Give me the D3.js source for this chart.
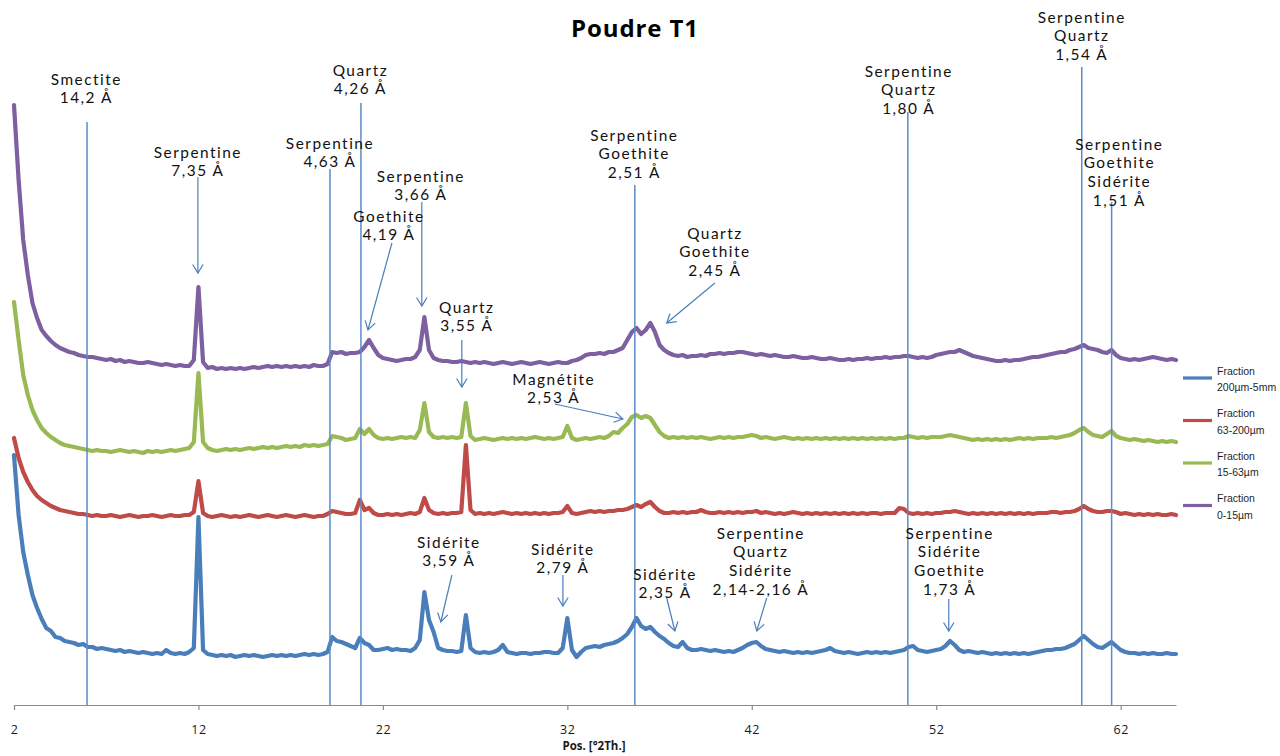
<!DOCTYPE html>
<html>
<head>
<meta charset="utf-8">
<script src="https://cdnjs.cloudflare.com/ajax/libs/d3/7.8.5/d3.min.js"></script>
<style>
  html, body { margin: 0; padding: 0; background: #fff; }
  svg { display: block; }
</style>
</head>
<body>
<svg id="chart" width="1280" height="756"></svg>
<script>
// Diffractogram "Poudre T1": four size fractions, offset intensities,
// sampled on a regular 2θ grid (start 2°, step 0.25°, 253 points).
const thetaStart = 2;
const thetaStep = 0.25;

const seriesNames = ["Fraction\n200µm-5mm", "Fraction\n63-200µm", "Fraction\n15-63µm", "Fraction\n0-15µm"];
const seriesColors = ["#4a7ebb", "#be4b48", "#98b954", "#7d60a0"];

const frac200to5mm = [
  250,190,153,130,110,97,86,77,74,68,67,64,63,62,60,61,58,58,56,57,
  56,55,54,55,53,54,53,52,53,52,51,52,51,55,52,51,52,51,53,57,
  188,55,51,50,49,50,49,50,48,49,50,49,50,49,48,49,50,49,50,49,
  50,49,50,51,50,51,50,51,53,68,64,63,61,59,57,67,62,60,55,55,
  56,57,55,56,55,55,54,57,65,113,85,73,57,55,54,54,53,54,90,57,
  53,52,53,52,53,55,60,53,52,51,52,52,51,52,52,53,53,52,52,57,
  87,55,48,53,57,58,59,58,60,61,62,64,67,71,78,87,79,76,78,73,
  69,66,62,59,58,63,57,55,55,56,55,54,55,54,53,54,53,55,57,60,
  62,63,59,56,55,54,53,54,53,52,53,52,53,52,53,54,55,57,54,53,
  52,53,52,51,52,53,52,53,52,53,52,53,54,55,58,59,55,54,53,54,
  55,56,59,64,60,55,53,54,53,52,53,52,51,52,51,52,51,52,51,52,
  51,52,53,54,55,55,56,56,57,59,61,65,69,65,61,58,57,60,63,59,
  55,53,52,52,51,52,51,52,51,51,52,51,51
];

const frac63to200 = [
  267,247,233,223,215,209,205,202,199,197,195,194,193,192,191,191,190,189,190,189,
  189,190,189,188,189,190,189,188,189,189,190,189,188,189,190,189,189,190,190,193,
  224,192,189,188,189,190,189,188,189,188,189,190,189,188,189,190,189,188,189,190,
  189,188,189,190,189,188,189,189,191,194,193,192,191,191,192,205,195,197,192,190,
  190,191,190,191,190,191,192,191,193,207,195,192,191,192,191,192,192,193,260,195,
  191,192,191,192,191,192,193,192,191,192,191,192,191,192,191,192,191,192,192,193,
  199,192,191,192,193,194,193,194,193,194,194,195,195,196,198,200,198,201,203,198,
  194,192,192,193,192,193,192,193,193,195,193,192,192,193,192,193,192,193,192,193,
  193,194,192,193,192,191,192,191,192,193,192,191,192,191,192,191,192,191,192,191,
  192,191,192,191,192,191,192,192,191,192,192,192,197,196,192,191,192,191,192,191,
  192,192,193,193,194,193,192,191,192,191,192,191,192,191,192,191,192,191,192,191,
  192,191,192,192,192,193,193,192,193,193,194,196,199,196,194,193,193,194,194,193,
  191,192,191,190,191,190,191,190,191,190,190,191,190
];

const frac15to63 = [
  403,365,330,310,295,285,277,272,268,265,262,260,259,258,257,256,255,254,255,254,
  254,253,254,255,254,253,254,253,252,254,253,254,253,254,255,254,255,256,257,263,
  332,263,257,255,254,255,256,255,256,255,256,257,256,257,258,257,258,257,258,259,
  258,259,258,260,259,260,259,260,261,269,268,267,265,266,267,276,271,276,270,267,
  266,267,266,267,268,267,268,267,275,302,273,268,267,268,267,268,267,268,302,269,
  265,266,267,266,265,266,267,266,267,266,267,266,267,268,267,266,267,266,267,268,
  279,267,265,266,267,266,267,268,267,269,273,272,277,281,288,290,287,289,287,280,
  273,269,267,268,267,268,267,268,267,268,267,266,267,268,267,268,267,268,268,269,
  270,269,267,268,267,266,267,268,267,266,267,266,267,266,267,266,267,266,267,266,
  267,266,267,266,267,266,267,266,267,266,267,266,267,267,269,268,267,268,267,268,
  268,268,269,270,269,268,267,266,265,266,265,266,265,266,265,266,265,266,267,266,
  267,266,267,267,267,268,267,268,269,270,272,275,277,273,270,269,268,271,274,269,
  267,266,265,266,265,264,265,264,263,264,263,264,263
];

const frac0to15 = [
  600,525,465,430,402,387,375,369,364,360,357,355,353,352,350,349,348,348,347,346,
  345,346,344,345,343,344,343,342,342,343,342,341,340,341,340,339,340,339,339,345,
  418,343,337,338,336,337,336,337,336,337,336,337,338,337,338,339,338,339,338,339,
  338,339,338,339,338,340,339,339,341,353,352,353,351,352,352,353,358,365,357,350,
  347,346,345,344,345,346,346,348,355,388,355,347,345,344,344,343,343,344,343,342,
  343,342,343,342,341,342,343,342,341,342,343,342,341,342,343,342,341,342,343,342,
  342,344,345,347,350,351,351,352,351,353,353,355,357,365,373,377,371,375,382,373,
  360,355,352,350,349,350,348,349,349,350,349,351,351,352,351,352,352,353,353,352,
  351,350,351,350,349,350,349,348,348,349,348,347,347,348,347,346,346,347,346,345,
  345,346,345,346,346,347,346,347,347,348,347,348,348,349,349,348,347,348,347,348,
  350,351,352,353,353,355,353,351,349,348,347,346,345,344,344,345,344,345,345,346,
  347,348,348,349,350,351,352,353,353,355,356,358,360,357,356,355,353,352,355,350,
  347,346,345,346,345,346,347,348,347,346,345,346,345
];

const xTicks = [2, 12, 22, 32, 42, 52, 62];

// Reference reflections drawn as vertical lines (2θ, top of line in counts)
const refLinePos = [5.96, 19.13, 20.81, 35.66, 50.46, 59.89, 61.51];
const refLineTop = [583, 536, 602, 520, 593, 638, 503];

// Mineral annotations: text lines, centre 2θ, level of first line
const noteText = [
  ["Smectite", "14,2 Å"],
  ["Serpentine", "7,35 Å"],
  ["Quartz", "4,26 Å"],
  ["Serpentine", "4,63 Å"],
  ["Serpentine", "3,66 Å"],
  ["Goethite", "4,19 Å"],
  ["Quartz", "3,55 Å"],
  ["Serpentine", "Goethite", "2,51 Å"],
  ["Quartz", "Goethite", "2,45 Å"],
  ["Magnétite", "2,53 Å"],
  ["Serpentine", "Quartz", "1,80 Å"],
  ["Serpentine", "Quartz", "1,54 Å"],
  ["Serpentine", "Goethite", "Sidérite", "1,51 Å"],
  ["Sidérite", "3,59 Å"],
  ["Sidérite", "2,79 Å"],
  ["Sidérite", "2,35 Å"],
  ["Serpentine", "Quartz", "Sidérite", "2,14-2,16 Å"],
  ["Serpentine", "Sidérite", "Goethite", "1,73 Å"]
];
const noteTheta = [5.92, 11.97, 20.78, 19.13, 24.06, 22.33, 26.55, 35.63, 40.0, 31.26,
                   50.51, 59.89, 61.93, 25.58, 31.76, 37.3, 42.49, 52.73];
const noteLevel = [626, 553, 635, 562, 529, 489, 398, 570, 472, 326,
                   634, 688, 561, 163, 156, 131, 172, 172];

// Arrows from annotation to reflection: start (2θ, counts) -> end (2θ, counts)
const arrowFrom = [[11.97, 528], [22.49, 462], [24.11, 503], [26.28, 365], [40.0, 422],
                   [31.32, 301], [25.74, 130], [31.76, 130], [37.39, 107], [42.81, 107], [52.68, 106]];
const arrowTo   = [[11.97, 432], [21.19, 375], [24.11, 399], [26.28, 318], [37.39, 382],
                   [35.01, 286], [25.14, 83], [31.76, 99], [37.83, 74], [42.27, 74], [52.68, 74]];

const svg = d3.select("#chart");
const W = 1280, H = 756;
svg.append("rect").attr("width", W).attr("height", H).attr("fill", "#fff");

const x = d3.scaleLinear().domain([2, 65]).range([14, 1176]);
const y = d3.scaleLinear().domain([0, 600]).range([705, 105]);

const allSeries = [frac200to5mm, frac63to200, frac15to63, frac0to15];

const line = d3.line()
  .x((d, i) => x(thetaStart + i * thetaStep))
  .y(d => y(d));

// traces (drawn in legend order)
svg.append("g").selectAll("path")
  .data(allSeries)
  .join("path")
  .attr("d", d => line(d))
  .attr("fill", "none")
  .attr("stroke", (d, i) => seriesColors[i])
  .attr("stroke-width", 4.2)
  .attr("stroke-linejoin", "round")
  .attr("stroke-linecap", "round");

// x axis
const axis = d3.axisBottom(x).tickValues(xTicks).tickFormat(d3.format("d"))
  .tickSize(5).tickSizeOuter(0).tickPadding(15);
const gAxis = svg.append("g").attr("transform", "translate(0,705)").call(axis);
gAxis.select(".domain").attr("stroke", "#8a8a8a").attr("stroke-width", 1.2);
gAxis.selectAll(".tick line").attr("stroke", "#8a8a8a").attr("stroke-width", 1.2);
gAxis.selectAll(".tick text")
  .attr("fill", "#1a1a1a")
  .style("font-family", "'Open Sans', sans-serif")
  .style("font-size", "12.5px")
  .style("letter-spacing", "0.6px");

svg.append("text")
  .attr("x", 594).attr("y", 750)
  .attr("text-anchor", "middle")
  .style("font-family", "'Open Sans', sans-serif")
  .style("font-weight", "700")
  .style("font-size", "11.5px")
  .attr("fill", "#1a1a1a")
  .text("Pos. [°2Th.]");

// reference lines
svg.append("g").selectAll("line")
  .data(refLinePos)
  .join("line")
  .attr("x1", d => x(d)).attr("x2", d => x(d))
  .attr("y1", y(0)).attr("y2", (d, i) => y(refLineTop[i]))
  .attr("stroke", "#5b8cc8")
  .attr("stroke-width", 1.5);

// arrows with open heads
const arrowG = svg.append("g").attr("fill", "none").attr("stroke", "#4a7ebb").attr("stroke-width", 1.2);
arrowFrom.forEach((a, i) => {
  const b = arrowTo[i];
  const x1 = x(a[0]), y1 = y(a[1]), x2 = x(b[0]), y2 = y(b[1]);
  const ang = Math.atan2(y2 - y1, x2 - x1);
  const len = 10, spread = 0.55;
  const hx1 = x2 - len * Math.cos(ang - spread), hy1 = y2 - len * Math.sin(ang - spread);
  const hx2 = x2 - len * Math.cos(ang + spread), hy2 = y2 - len * Math.sin(ang + spread);
  arrowG.append("path").attr("d", `M${x1},${y1}L${x2},${y2}`);
  arrowG.append("path").attr("d", `M${hx1},${hy1}L${x2},${y2}L${hx2},${hy2}`);
});

// annotation texts
const lineGap = 18.7;
const noteG = svg.append("g")
  .attr("text-anchor", "middle")
  .style("font-family", "Lato, 'Open Sans', sans-serif")
  .style("font-size", "15.4px")
  .style("letter-spacing", "1.5px")
  .attr("fill", "#111");
noteText.forEach((lines, i) => {
  const t = noteG.append("text")
    .attr("x", x(noteTheta[i]))
    .attr("y", y(noteLevel[i]));
  lines.forEach((s, k) => {
    t.append("tspan")
      .attr("x", x(noteTheta[i]))
      .attr("y", y(noteLevel[i]) + k * lineGap)
      .attr("dy", "0.36em")
      .text(s);
  });
});

// title
svg.append("text")
  .attr("x", 635).attr("y", 37)
  .attr("text-anchor", "middle")
  .style("font-family", "'Open Sans', sans-serif")
  .style("font-weight", "700")
  .style("font-size", "24px")
  .style("letter-spacing", "0.9px")
  .attr("fill", "#000")
  .text("Poudre T1");

// legend
const legend = svg.append("g");
seriesNames.forEach((name, i) => {
  const cy = 378 + i * 42.5;
  legend.append("line")
    .attr("x1", 1183).attr("x2", 1212)
    .attr("y1", cy).attr("y2", cy)
    .attr("stroke", seriesColors[i])
    .attr("stroke-width", 3.2);
  const parts = name.split("\n");
  const t = legend.append("text")
    .style("font-family", "'Liberation Sans', sans-serif")
    .style("font-size", "10.5px")
    .attr("fill", "#1f1f1f");
  parts.forEach((p, k) => {
    t.append("tspan")
      .attr("x", 1217)
      .attr("y", cy - 7 + k * 16.5)
      .attr("dy", "0.35em")
      .text(p);
  });
});
</script>
</body>
</html>
